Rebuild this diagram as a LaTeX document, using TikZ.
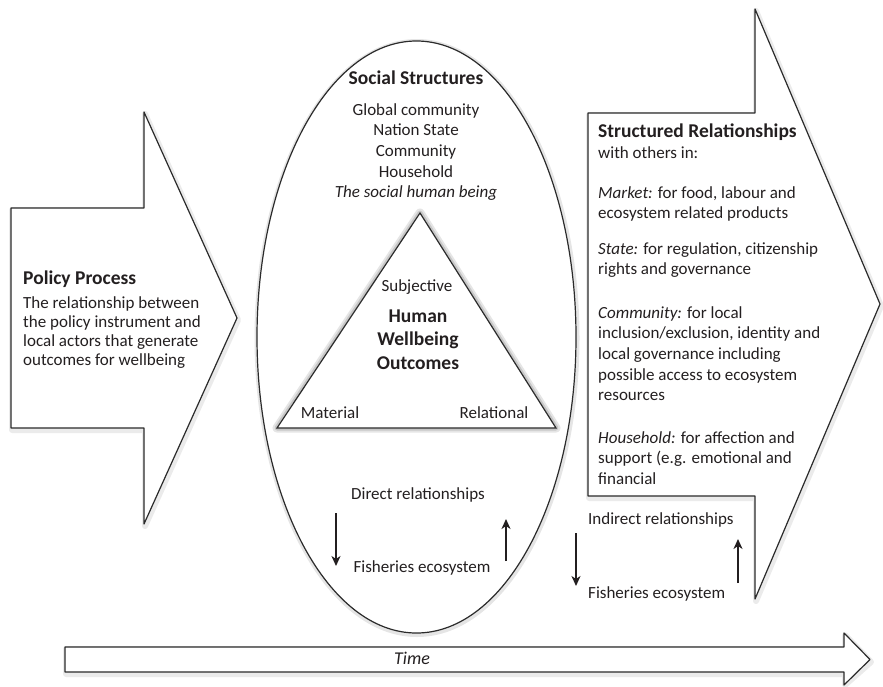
\documentclass[tikz,border=0pt]{standalone}
\usepackage{fontspec}
\setmainfont{Carlito}
\usetikzlibrary{arrows.meta,shapes.geometric}
\definecolor{ink}{HTML}{231F20}
\definecolor{edge}{HTML}{2B2B2B}
\begin{document}
\begin{tikzpicture}[x=1pt,y=-1pt,
  blockline/.style={draw=edge,line width=1.2pt,fill=white,line join=round},
  glowline/.style={draw=black!14,line width=6pt,line join=round},
  bodytxt/.style={font=\fontsize{17}{20.7}\selectfont,text=ink,inner sep=0pt,align=left},
  headtxt/.style={font=\fontsize{19.5}{23.5}\selectfont\bfseries,text=ink,inner sep=0pt},
  flow/.style={draw=ink,line width=2pt,-{Stealth[length=10pt,width=9pt,inset=3pt]}}]
\useasboundingbox (0,0) rectangle (883,686);

% block arrows
\draw[glowline,draw=black!8] (12,210) -- (145,210) -- (145,114) -- (238,320) -- (145,526) -- (145,430) -- (12,430) -- cycle;
\draw[blockline] (11,208) -- (144,208) -- (144,112) -- (237,318) -- (144,524) -- (144,428) -- (11,428) -- cycle;

\draw[glowline,draw=black!8] (589,115) -- (756,115) -- (756,11) -- (881,306) -- (756,601) -- (756,498) -- (589,498) -- cycle;
\draw[blockline] (588,113) -- (755,113) -- (755,9) -- (880,304) -- (755,599) -- (755,496) -- (588,496) -- cycle;

\draw[glowline,draw=black!8] (66,649) -- (845,649) -- (845,635) -- (871,662) -- (845,685) -- (845,674) -- (66,674) -- cycle;
\draw[blockline] (65,647) -- (844,647) -- (844,633) -- (870,659.5) -- (844,685) -- (844,672) -- (65,672) -- cycle;

% social structures ellipse
\node[ellipse,draw=black!10,line width=4pt,minimum width=321pt,minimum height=594pt,inner sep=0pt] (ssglow) at (417,338) {};
\node[ellipse,draw=edge,fill=white,line width=1.2pt,minimum width=319pt,minimum height=592pt,inner sep=0pt] (ss) at (416.5,337) {};

% wellbeing triangle with glow
\draw[draw=black!10,line width=9pt,line join=round] (420,213) -- (556,428) -- (277,428) -- cycle;
\draw[draw=black!22,line width=5pt,line join=round] (420,213) -- (556,428) -- (277,428) -- cycle;
\draw[blockline,line join=miter] (420,213) -- (556,428) -- (277,428) -- cycle;

% texts: left (multi-line nodes are anchored at the baseline of their last line)
\node[headtxt,anchor=base west] (ppt) at (23,284) {Policy Process};
\node[bodytxt,anchor=base west,font=\fontsize{17}{19.3}\selectfont] (ppd) at (23,365.9)
  {The relationship between\\the policy instrument and\\local actors that generate\\outcomes for wellbeing};

% texts: centre
\node[headtxt,anchor=base] (sst) at (416,84) {Social Structures};
\node[bodytxt,align=center,anchor=base] (lvl) at (416,197.8)
  {Global community\\Nation State\\Community\\Household\\\textit{The social human being}};
\node[bodytxt,anchor=base] (subj) at (417,291) {Subjective};
\node[headtxt,align=center,anchor=base] (hwo) at (418,369) {Human\\Wellbeing\\Outcomes};
\node[bodytxt,anchor=base] (mat) at (330,418) {Material};
\node[bodytxt,anchor=base] (rel) at (494,418) {Relational};
\node[bodytxt,anchor=base] (dir) at (418,499) {Direct relationships};
\node[bodytxt,anchor=base] (fe1) at (422,572) {Fisheries ecosystem};

\coordinate (d1a) at (336,513); \coordinate (d1b) at (336,566);
\coordinate (u1a) at (506,561); \coordinate (u1b) at (506,519);
\draw[flow] (d1a) -- (d1b);
\draw[flow] (u1a) -- (u1b);

% texts: right
\node[headtxt,anchor=base west] (srt) at (598,137) {Structured Relationships};
\node[bodytxt,anchor=base west] (srw) at (598,158) {with others in:};
\node[bodytxt,anchor=base west] (mkt) at (598,218.7) {\textit{Market:} for food, labour and\\ecosystem related products};
\node[bodytxt,anchor=base west] (sta) at (598,274.7) {\textit{State:} for regulation, citizenship\\rights and governance};
\node[bodytxt,anchor=base west] (com) at (598,400.8) {\textit{Community:} for local\\inclusion/exclusion, identity and\\local governance including\\possible access to ecosystem\\resources};
\node[bodytxt,anchor=base west] (hh) at (598,484.4) {\textit{Household:} for affection and\\support (e.g. emotional and\\financial};

\node[bodytxt,anchor=base west] (ind) at (588,524) {Indirect relationships};
\node[bodytxt,anchor=base west] (fe2) at (588,598) {Fisheries ecosystem};
\coordinate (d2a) at (576,533); \coordinate (d2b) at (576,586);
\coordinate (u2a) at (738,583); \coordinate (u2b) at (738,539);
\draw[flow] (d2a) -- (d2b);
\draw[flow] (u2a) -- (u2b);

% time
\node[font=\fontsize{18}{20}\selectfont\itshape,text=ink,inner sep=0pt,anchor=base] (time) at (412,664) {Time};
\end{tikzpicture}
\end{document}
